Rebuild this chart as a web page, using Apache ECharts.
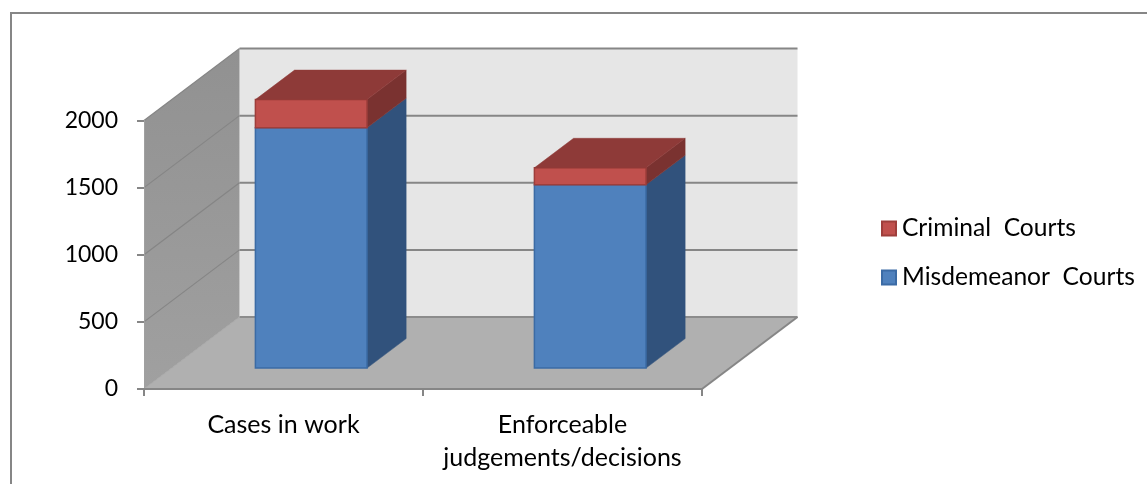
<!DOCTYPE html>
<html><head><meta charset="utf-8">
<style>html,body{margin:0;padding:0;background:#fff}#c{width:1147px;height:484px}</style>
<script src="https://cdn.jsdelivr.net/npm/echarts@6/dist/echarts.min.js"></script>
</head><body><div id="c"></div>
<script>
const categories = ['Cases in work', 'Enforceable\njudgements/decisions'];
const misdemeanor = [1790, 1365];
const criminal = [210, 127];
const tickValues = [0, 500, 1000, 1500, 2000];

const FONT = 'Lato';
const DEPTH = [95.5, -72];     // full depth of the 3-D box
const NEAR = 0.29, FAR = 0.70; // where the bars sit within that depth

const chart = echarts.init(document.getElementById('c'), null, {renderer: 'canvas'});

function shift(p, f) { return [p[0] + DEPTH[0] * f, p[1] + DEPTH[1] * f]; }

function renderWalls(params, api) {
  if (params.dataIndex !== 0) return;
  const a = api.coord([0, 0]), band = api.size([1, 0])[0];
  const l = a[0] - band / 2, r = l + band * categories.length, b = a[1];
  const t = api.coord([0, 2000])[1];
  const kids = [];
  const poly = (pts, style) => ({type: 'polygon', shape: {points: pts}, style});
  const line = (p, q, stroke, w) => ({type: 'line', shape: {x1: p[0], y1: p[1], x2: q[0], y2: q[1]}, style: {stroke, lineWidth: w}});
  kids.push(poly([shift([l, t], 1), shift([r, t], 1), shift([r, b], 1), shift([l, b], 1)], {fill: '#e6e6e6'}));
  kids.push(poly([[l, b], shift([l, b], 1), shift([l, t], 1), [l, t]], {
    fill: new echarts.graphic.LinearGradient(0, 0, 0, 1, [{offset: 0, color: '#919191'}, {offset: 1, color: '#a0a0a0'}])
  }));
  kids.push(poly([[l, b], [r, b], shift([r, b], 1), shift([l, b], 1)], {fill: '#b0b0b0'}));
  tickValues.forEach(v => {
    const y = api.coord([0, v])[1];
    if (v > 0) {
      kids.push(line([l, y], shift([l, y], 1), '#858585', 1.2));
      kids.push(line(shift([l, y], 1), shift([r, y], 1), '#868686', 2));
    }
  });
  kids.push(line(shift([l, b], 1), shift([r, b], 1), '#8c8c8c', 2));
  kids.push(line([l, b], shift([l, b], 1), '#a8a8a8', 1));
  kids.push(line([r, b], shift([r, b], 1), '#868686', 2));
  return {type: 'group', children: kids};
}

function barRenderer(front, side, top, border, drawTop) {
  return function (params, api) {
    const i = api.value(0);
    const c0 = api.coord([i, api.value(1)]), c1 = api.coord([i, api.value(2)]);
    const w = api.size([1, 0])[0] * 0.4;
    const fl = shift([c0[0] - w / 2, c0[1]], NEAR), fr = shift([c0[0] + w / 2, c0[1]], NEAR);
    const tl = shift([c1[0] - w / 2, c1[1]], NEAR), tr = shift([c1[0] + w / 2, c1[1]], NEAR);
    const back = p => [p[0] + DEPTH[0] * (FAR - NEAR), p[1] + DEPTH[1] * (FAR - NEAR)];
    const kids = [
      {type: 'polygon', shape: {points: [fr, back(fr), back(tr), tr]}, style: {fill: side, stroke: side, lineWidth: 0.5}},
      {type: 'polygon', shape: {points: [fl, fr, tr, tl]}, style: {fill: front, stroke: border, lineWidth: 1.5}}
    ];
    if (drawTop) kids.push({type: 'polygon', shape: {points: [tl, tr, back(tr), back(tl)]}, style: {fill: top, stroke: top, lineWidth: 0.5}});
    return {type: 'group', children: kids};
  };
}

const misRows = categories.map((_, i) => [i, 0, misdemeanor[i]]);
const crimRows = categories.map((_, i) => [i, misdemeanor[i], misdemeanor[i] + criminal[i]]);

chart.setOption({
  animation: false,
  backgroundColor: '#fff',
  textStyle: {fontFamily: FONT},
  graphic: [{type: 'rect', shape: {x: 11, y: 13, width: 1300, height: 700}, style: {fill: 'transparent', stroke: '#868686', lineWidth: 2}, silent: true, z: -10}],
  grid: {left: 144, top: 120.5, width: 558, height: 268.5, containLabel: false},
  legend: {
    left: 876, top: 211, orient: 'vertical', icon: 'rect', itemWidth: 14, itemHeight: 14, itemGap: 24,
    data: ['Criminal  Courts', 'Misdemeanor  Courts'],
    textStyle: {fontFamily: FONT, fontSize: 24.6, color: '#000', padding: [0, 0, 0, 1]}
  },
  xAxis: {
    type: 'category', data: categories, z: 1,
    axisLine: {lineStyle: {color: '#868686', width: 2}},
    axisTick: {show: true, alignWithLabel: false, length: 7, lineStyle: {color: '#868686', width: 2}},
    axisLabel: {color: '#000', fontFamily: FONT, fontSize: 25, margin: 19, lineHeight: 33, interval: 0}
  },
  yAxis: {
    type: 'value', min: 0, max: 2000, interval: 500, z: 1,
    axisLine: {show: true, lineStyle: {color: '#a0a0a0', width: 1}},
    axisTick: {show: true, length: 7, lineStyle: {color: '#868686', width: 2}},
    axisLabel: {color: '#000', fontFamily: FONT, fontSize: 23, margin: 26, formatter: v => String(v)},
    splitLine: {show: false}
  },
  series: [
    {type: 'custom', name: 'walls', z: 0, silent: true, renderItem: renderWalls, data: misRows, encode: {x: 0, y: 2}},
    {type: 'custom', name: 'Misdemeanor  Courts', z: 2, renderItem: barRenderer('#4f81bd', '#31527c', '#31527c', '#3b6ba5', false),
      data: misRows, encode: {x: 0, y: 2}, itemStyle: {color: '#4f81bd', borderColor: '#3b6ba5', borderWidth: 1.5}},
    {type: 'custom', name: 'Criminal  Courts', z: 3, renderItem: barRenderer('#c0504d', '#7a3230', '#8e3a38', '#9e3e3b', true),
      data: crimRows, encode: {x: 0, y: 2}, itemStyle: {color: '#c0504d', borderColor: '#9e3e3b', borderWidth: 1.5}}
  ]
});
</script></body></html>
